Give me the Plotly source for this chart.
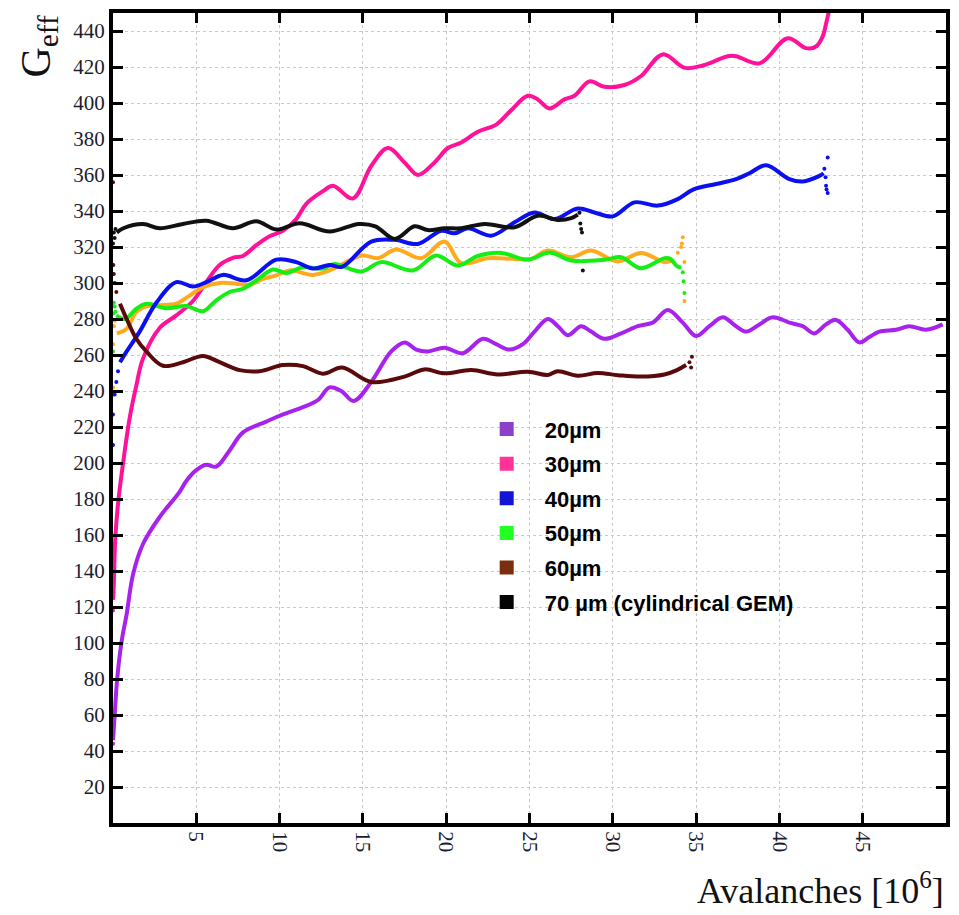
import plotly.graph_objects as go

# ---------------- data ----------------
# 20 um
x20 = [0.0, 0.1, 0.25, 0.52, 0.82, 1.2, 1.8, 2.8, 4.0, 4.4, 5.0, 5.6, 6.2, 7.0, 7.8, 9.2, 10.2, 11.4,
       12.3, 13.0, 13.7, 14.45, 15.5, 16.7, 17.5, 18.2, 18.9, 19.9, 21.0, 22.2, 23.0, 23.8, 24.6, 25.3,
       26.1, 26.7, 27.3, 28.1, 28.7, 29.5, 30.5, 31.5, 32.4, 33.3, 34.2, 35.0, 35.8, 36.6, 37.4, 38.0,
       38.8, 39.6, 40.6, 41.4, 42.1, 42.8, 43.4, 44.1, 44.8, 45.4, 46.0, 47.0, 47.8, 48.8, 49.8]
y20 = [46, 60, 80, 101, 116, 138, 155, 170, 184, 190, 196, 199, 198, 207, 217, 223, 227, 231,
       235, 242, 240, 234.5, 245, 262, 267, 263, 262, 264, 261, 269, 266, 263, 266, 273,
       280, 276, 271, 276, 273, 269, 272, 276, 278, 285, 278, 270.5, 276, 281, 276, 273,
       277, 281, 278, 276, 272, 277, 279.5, 274, 267, 270, 273, 274, 276, 274, 277]

# 30 um
x30 = [0.0, 0.05, 0.13, 0.32, 0.62, 1.0, 1.4, 1.8, 2.8, 3.8, 4.8, 5.6, 6.4, 7.2, 7.8, 8.6, 9.4, 10.2,
       11.0, 11.6, 12.6, 13.2, 14.4, 15.5, 16.5, 17.5, 18.3, 19.3, 20.1, 20.9, 21.9, 23.0, 23.9, 24.9,
       25.5, 26.2, 27.1, 27.7, 28.6, 29.5, 30.7, 31.7, 33.0, 34.35, 35.45, 36.9, 37.4, 38.8, 40.5,
       41.6, 42.2, 42.6, 42.8, 43.0]
y30 = [124, 133, 157, 179, 201, 225, 243, 258, 275, 282, 290, 300.5, 310, 314, 315, 321, 326, 329,
       335.5, 344, 351, 354, 347, 365, 375, 367, 360, 367, 375, 378, 384, 388, 396, 404,
       402, 397, 402, 404, 412, 409, 410, 415, 427, 419.5, 421, 426, 426, 422, 436,
       430.5, 431.4, 437, 444, 452]

# 40 um
x40 = [0.42, 0.82, 1.6, 2.6, 3.8, 4.8, 5.6, 6.6, 8.0, 9.8, 11.0, 12.0, 13.0, 13.75, 15.5, 16.9, 18.3,
       19.7, 20.5, 21.3, 22.7, 24.1, 25.3, 26.5, 27.9, 28.9, 30.0, 31.3, 32.7, 33.9, 34.85, 36.2,
       37.4, 38.2, 39.2, 40.6, 41.4, 42.4, 42.65]
y40 = [256, 262, 273, 289, 300.5, 298, 300.5, 304.5, 301.5, 313, 311.6, 308, 310, 309, 323, 324, 321.7,
       329, 327.6, 330.4, 326.3, 333.7, 339.2, 335.5, 341.4, 339.2, 337, 344.8, 343, 346.6, 352, 355,
       357.7, 361, 365.4, 357.7, 356.4, 359.5, 361]

# 50 um
x50 = [0.2, 0.72, 1.4, 2.0, 3.2, 4.4, 5.4, 6.2, 7.0, 7.8, 8.6, 9.6, 10.4, 11.4, 12.6, 13.3, 14.9,
       16.1, 18.0, 19.4, 20.7, 21.9, 23.3, 24.9, 26.2, 27.5, 29.5, 30.5, 31.7, 33.1, 33.45, 33.85, 34.1]
y50 = [282, 280, 285.7, 288.5, 286, 287.2, 284.3, 290.4, 295, 296.8, 301.4, 307.5, 305.6, 308.8, 308,
       310.5, 306.4, 311.6, 307, 315.3, 309.7, 315, 316.7, 313, 317, 312.5, 312.9, 314.3, 308.2, 313.8,
       313.4, 309.4, 308.5]

# unlabelled orange series
xor = [0.23, 0.82, 1.4, 2.0, 2.8, 3.8, 4.6, 5.4, 6.4, 7.4, 8.2, 9.0, 9.8, 10.6, 12.0, 13.0, 14.95, 15.9,
       17.0, 18.5, 19.9, 20.9, 22.5, 24.1, 25.1, 26.1, 27.5, 28.7, 30.3, 31.7, 33.1, 33.6]
yor = [272, 274.6, 284, 287, 287.6, 288.5, 293, 297.7, 300, 299.6, 299, 302.3, 304.2, 307, 304.5, 307,
       315.3, 313.8, 318.6, 313.8, 323, 311, 313.8, 313.4, 313.4, 318, 314.3, 318, 312, 316.7, 311.6, 312.5]

# 60 um
x60 = [0.42, 0.82, 1.4, 2.0, 3.0, 4.2, 5.4, 6.4, 7.6, 8.8, 10.2, 11.4, 12.6, 13.75, 15.5, 17.5, 18.7,
       19.9, 21.5, 23.1, 24.9, 26.1, 26.7, 27.9, 29.1, 30.3, 31.7, 33.1, 33.85, 34.4]
y60 = [288.5, 280, 269, 262, 254, 256, 259.5, 256, 251.6, 251, 254.4, 253.8, 249.6, 253, 245, 248, 252,
       249.8, 251.6, 249.2, 250.7, 248.9, 251, 248.5, 250, 248.8, 248, 249.2, 251.6, 254.4]

# 70 um (cylindrical GEM)
x70 = [0.23, 0.62, 1.8, 2.8, 4.2, 5.6, 7.2, 8.6, 9.8, 11.2, 13.0, 14.75, 15.75, 16.9, 18.1, 18.9,
       19.9, 20.9, 22.3, 24.1, 25.5, 26.7, 27.5, 27.9]
y70 = [328, 330.4, 332.8, 330.4, 332.8, 334.6, 330.4, 334.3, 329.7, 333.2, 328.6, 332.8, 331.5, 324.5,
       331.5, 329.4, 330.4, 330.4, 332.8, 331, 337.4, 335, 336, 338]

# sparse stray points at the start / end of the runs
dots20_x, dots20_y = [0.0, 0.02, 0.05], [44, 50, 55]
dots30_x, dots30_y = [0.0, 0.02], [118, 128]
dots40_x = [0.0, 0.0, 0.1, 0.2, 0.3, 42.7, 42.77, 42.8, 42.83, 42.9, 42.9]
dots40_y = [210, 227, 238, 245, 251, 363.5, 358.7, 354, 352, 350, 369.7]
dots50_x = [0.0, 0.02, 0.05, 0.1, 0.15, 34.2, 34.25, 34.3]
dots50_y = [262, 283, 289, 287, 284, 306, 301, 294.4]
dotsor_x = [0.0, 0.0, 0.05, 0.1, 33.9, 34.1, 34.15, 34.2, 34.3, 34.3]
dotsor_y = [242, 266, 276, 279, 316.8, 320, 322, 325.4, 311.6, 290]
dots60_x = [0.0, 0.02, 0.05, 0.1, 0.2, 34.6, 34.7, 34.75]
dots60_y = [356, 310, 305, 300, 295, 256, 253, 259]
dots70_x = [0.0, 0.05, 0.1, 0.15, 28.0, 28.05, 28.1, 28.15, 28.2]
dots70_y = [322, 328, 325, 330, 339, 333, 330, 328, 307]

legend_names = ["20µm", "30µm", "40µm", "50µm", "60µm", "70 µm (cylindrical GEM)"]
legend_colors = ["#8E3FC9", "#FF3399", "#1414D6", "#22FF22", "#7B2E0E", "#050505"]

x_ticks = [5, 10, 15, 20, 25, 30, 35, 40, 45]
y_ticks = list(range(20, 441, 20))

# ---------------- figure ----------------
series = [
    (x20, y20, dots20_x, dots20_y, "#A822EE"),
    (x30, y30, dots30_x, dots30_y, "#FF1199"),
    (xor, yor, dotsor_x, dotsor_y, "#FFAA1E"),
    (x50, y50, dots50_x, dots50_y, "#14EE14"),
    (x40, y40, dots40_x, dots40_y, "#0A10F0"),
    (x60, y60, dots60_x, dots60_y, "#5A0A0A"),
    (x70, y70, dots70_x, dots70_y, "#111111"),
]

fig = go.Figure()
for xs, ys, dx, dy, col in series:
    fig.add_trace(go.Scatter(x=xs, y=ys, mode="lines", line=dict(color=col, width=4, shape="spline", smoothing=1.0),
                             showlegend=False, hoverinfo="skip"))
    fig.add_trace(go.Scatter(x=dx, y=dy, mode="markers", marker=dict(color=col, size=4),
                             showlegend=False, hoverinfo="skip"))

for i, (nm, col) in enumerate(zip(legend_names, legend_colors)):
    fig.add_trace(go.Scatter(x=[None], y=[None], mode="markers", name=nm, legendgroup=str(i),
                             marker=dict(symbol="square", size=14, color=col)))

tickfont = dict(family="Liberation Serif", size=21, color="#1c1c30")
axis_common = dict(showline=True, linewidth=4, linecolor="black", mirror="ticks",
                   ticks="inside", ticklen=10, tickwidth=3, tickcolor="black",
                   showgrid=True, gridcolor="#c8c8c8", gridwidth=1, griddash="3px,3px",
                   zeroline=False, tickfont=tickfont)

fig.update_xaxes(range=[0, 50], tickvals=x_ticks, ticktext=[str(v) for v in x_ticks], tickangle=90, **axis_common)
fig.update_yaxes(range=[0, 450], tickvals=y_ticks, ticktext=[str(v) for v in y_ticks], **axis_common)

fig.update_layout(
    width=959, height=915,
    margin=dict(l=113, r=9, t=10, b=92),
    paper_bgcolor="white", plot_bgcolor="white",
    legend=dict(x=0.427, y=0.512, xanchor="left", yanchor="top",
                font=dict(family="Liberation Sans", size=22, color="black", weight="bold"),
                itemwidth=66, tracegroupgap=3, bgcolor="rgba(0,0,0,0)"),
    annotations=[
        dict(text="G<sub>eff</sub>", xref="paper", yref="paper", x=-0.09, y=1.0, xanchor="center", yanchor="top",
             textangle=-90, showarrow=False, font=dict(family="Liberation Serif", size=42, color="#111")),
        dict(text="Avalanches [10<sup>6</sup>]", xref="paper", yref="paper", x=1.0, y=-0.081, xanchor="right",
             yanchor="middle", showarrow=False, font=dict(family="Liberation Serif", size=36, color="#111")),
    ],
)

fig.write_html("out.html")
